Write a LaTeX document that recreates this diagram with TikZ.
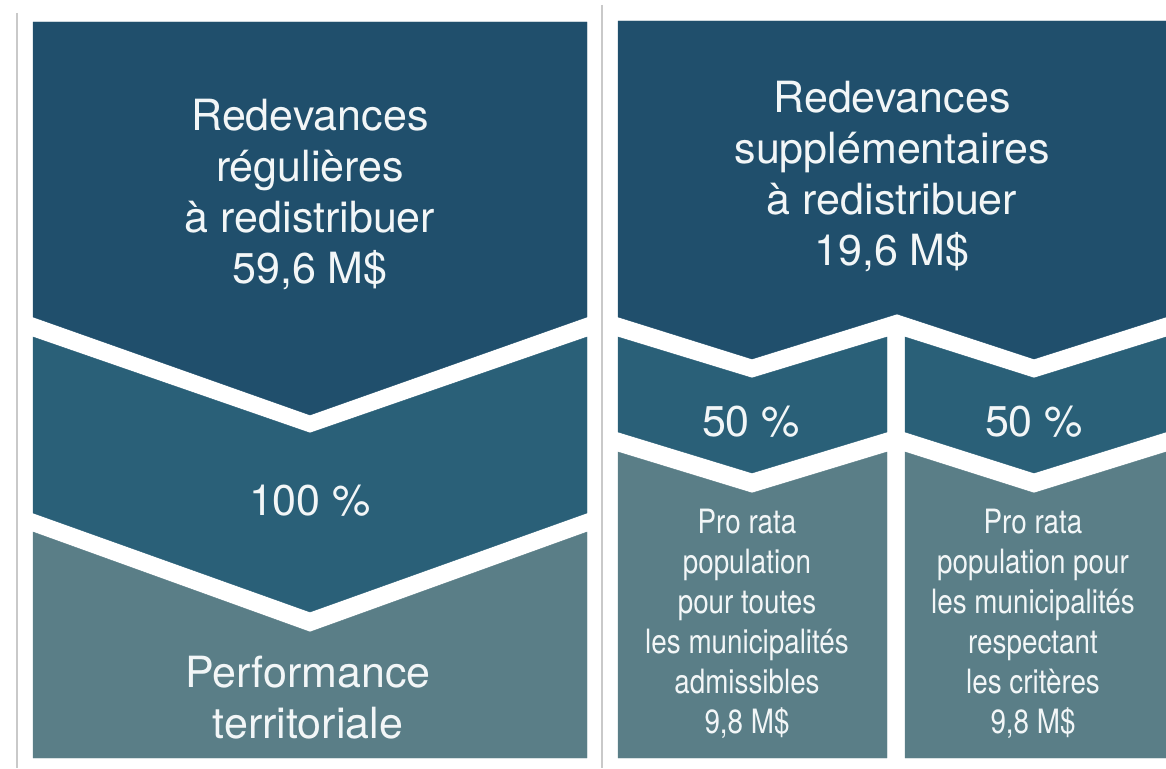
\documentclass[tikz,border=0pt]{standalone}
\usepackage{fontspec}
\setmainfont{TeX Gyre Heros}
\newfontfamily\narrowfont[FakeStretch=0.83]{TeX Gyre Heros}
\usepackage{xcolor}
\definecolor{redev}{HTML}{204F6C}
\definecolor{part}{HTML}{2A6078}
\definecolor{prorata}{HTML}{5A7E87}
\definecolor{txtw}{HTML}{F2F6F7}
\definecolor{filet}{HTML}{C9C9C9}

\begin{document}
\begin{tikzpicture}[x=1pt,y=-1pt,
		big/.style={text=txtw,align=center,font=\fontsize{43}{51}\selectfont},
		narrow/.style={text=txtw,align=center,font=\narrowfont\fontsize{33.5}{40}\selectfont}]
		\useasboundingbox (0,0) rectangle (1166,768);
		%
		\draw [color=filet, line width=1.5pt] (17,13) -- (17,768); %left line
		\draw [color=filet, line width=1.5pt] (602,5) -- (602,768); %divider
		%
		\draw [color=redev, fill=redev] (33,22) -- (587,22) -- (587,317) -- (310,415) -- (33,317) -- cycle; %left top
		\draw [color=part, fill=part] (33,337) -- (310,433) -- (587,337) -- (587,513) -- (310,612) -- (33,513) -- cycle; %left middle
		\draw [color=prorata, fill=prorata] (33,532) -- (310,632) -- (587,532) -- (587,758) -- (33,758) -- cycle; %left bottom
		%
		\draw [color=redev, fill=redev] (618,21) -- (1166,21) -- (1166,317) -- (1034,359) -- (897,314) -- (752,359) -- (618,317) -- cycle; %right top
		\draw [color=part, fill=part] (618,337) -- (752,378) -- (887,337) -- (887,432) -- (752,473) -- (618,432) -- cycle; %right middle 1
		\draw [color=prorata, fill=prorata] (618,452) -- (752,493) -- (887,452) -- (887,758) -- (618,758) -- cycle; %right bottom 1
		\draw [color=part, fill=part] (905,337) -- (1034,378) -- (1166,337) -- (1166,432) -- (1034,473) -- (905,432) -- cycle; %right middle 2
		\draw [color=prorata, fill=prorata] (905,452) -- (1034,493) -- (1166,452) -- (1166,758) -- (905,758) -- cycle; %right bottom 2
		%
		\node [big] (redreg) at (310,194) {Redevances\\régulières\\à redistribuer\\59,6 M\$};
		\node [big] (cent) at (310,501) {100 \%};
		\node [big] (perf) at (308,698) {Performance\\territoriale};
		%
		\node [big] (redsup) at (892,176) {Redevances\\supplémentaires\\à redistribuer\\19,6 M\$};
		\node [big] (pcta) at (751,422) {50 \%};
		\node [big] (pctb) at (1034,422) {50 \%};
		\node [narrow] (prorataa) at (747,624) {Pro rata\\population\\pour toutes\\les municipalités\\admissibles\\9,8 M\$};
		\node [narrow] (proratab) at (1033,624) {Pro rata\\population pour\\les municipalités\\respectant\\les critères\\9,8 M\$};
	\end{tikzpicture}
\end{document}
